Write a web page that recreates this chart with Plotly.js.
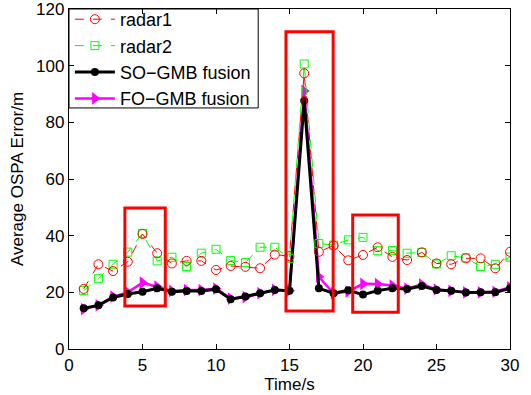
<!DOCTYPE html>
<html>
<head>
<meta charset="utf-8">
<script src="https://cdn.plot.ly/plotly-3.0.1.min.js"></script>
<style>html,body{margin:0;padding:0;background:#fff;}#chart{width:531px;height:395px;}</style>
</head>
<body>
<div id="chart"></div>
<script>
const time = [1,2,3,4,5,6,7,8,9,10,11,12,13,14,15,16,17,18,19,20,21,22,23,24,25,26,27,28,29,30];
const radar1 = [21.2,29.9,27.5,30.8,40.6,33.8,30.2,31.1,31.1,27.9,29.3,29.0,28.5,33.3,32.8,97.3,34.3,36.5,31.3,33.2,35.9,32.5,31.4,34.1,30.2,29.9,32.0,32.0,28.5,34.3];
const radar2 = [20.6,24.8,29.9,34.2,40.8,31.1,32.4,29.1,33.8,35.2,31.2,30.5,35.9,35.9,32.0,100.6,37.2,36.7,38.5,39.4,34.7,34.8,33.8,34.1,30.0,32.9,32.2,29.1,29.9,32.4];
const soGmb = [14.4,15.4,18.2,19.4,20.2,21.4,20.2,20.5,20.5,21.1,17.6,18.5,19.7,20.8,20.6,87.6,21.4,19.7,20.7,19.2,20.6,21.4,21.2,22.2,20.8,20.6,19.9,20.0,20.0,21.4];
const foGmb = [14.1,15.4,18.5,20.0,23.4,22.0,20.5,20.8,20.8,21.3,17.8,18.3,19.7,20.9,20.6,91.1,25.5,19.6,20.3,23.0,22.9,22.4,21.3,22.8,21.0,20.5,20.0,20.0,20.2,21.8];
const seriesNames = ['radar1','radar2','SO\u2212GMB fusion','FO\u2212GMB fusion'];
// highlighted regions (data coordinates)
const boxX0 = [3.8, 14.76, 19.3];
const boxX1 = [6.55, 17.97, 22.4];
const boxY0 = [15.2, 13.4, 13.0];
const boxY1 = [49.8, 112, 47.3];
const xTicks = [0,5,10,15,20,25,30];
const yTicks = [0,20,40,60,80,100,120];

const FONT = '"Liberation Sans", Arial, Helvetica, sans-serif';

// drawn bottom-to-top; legend shown reversed (radar1, radar2, SO, FO)
const traces = [
  {x: time, y: foGmb, name: seriesNames[3], mode: 'lines+markers',
   line: {color: '#ff00ff', width: 2.5},
   marker: {symbol: 'triangle-right', size: 11, color: '#ff00ff'}},
  {x: time, y: soGmb, name: seriesNames[2], mode: 'lines+markers',
   line: {color: '#000000', width: 3},
   marker: {symbol: 'circle', size: 8, color: '#000000'}},
  {x: time, y: radar2, name: seriesNames[1], mode: 'lines+markers',
   line: {color: '#00ff00', width: 1, dash: 'dash'},
   marker: {symbol: 'square-open', size: 8, color: '#00ff00', line: {width: 1, color: '#00ff00'}}},
  {x: time, y: radar1, name: seriesNames[0], mode: 'lines+markers',
   line: {color: '#ff0000', width: 1, dash: 'dash'},
   marker: {symbol: 'circle-open', size: 9, color: '#ff0000', line: {width: 1, color: '#ff0000'}}}
];

const shapes = boxX0.map((x0, i) => ({
  type: 'rect', xref: 'x', yref: 'y', x0: x0, x1: boxX1[i], y0: boxY0[i], y1: boxY1[i],
  line: {color: '#ff0000', width: 3}, fillcolor: 'rgba(0,0,0,0)'
}));
// legend frame
shapes.push({type: 'rect', xref: 'paper', yref: 'paper', x0: 0, x1: 0.429, y0: 0.709, y1: 1,
  line: {color: '#000', width: 1}, fillcolor: '#fff', layer: 'below'});

const axisCommon = {
  showline: true, linecolor: '#000', linewidth: 1.2, mirror: 'ticks',
  ticks: 'inside', ticklen: 5, tickcolor: '#000', tickwidth: 1,
  showgrid: false, zeroline: false, ticklabeloverflow: 'allow', automargin: false,
  tickfont: {family: FONT, size: 17, color: '#000'}
};

const layout = {
  width: 531, height: 395,
  margin: {l: 69, r: 21, t: 9, b: 46, autoexpand: false},
  paper_bgcolor: '#fff', plot_bgcolor: 'rgba(0,0,0,0)',
  font: {family: FONT, size: 17, color: '#000'},
  xaxis: Object.assign({}, axisCommon, {range: [0, 30], tickvals: xTicks,
    title: {text: 'Time/s', font: {family: FONT, size: 17, color: '#000'}, standoff: 2}}),
  yaxis: Object.assign({}, axisCommon, {range: [0, 120], tickvals: yTicks,
    title: {text: 'Average OSPA Error/m', font: {family: FONT, size: 17, color: '#000'}, standoff: 8}}),
  legend: {x: 0.002, y: 1.0235, xanchor: 'left', yanchor: 'top', bgcolor: 'rgba(0,0,0,0)',
    borderwidth: 0, font: {family: FONT, size: 18, color: '#000'},
    itemwidth: 40, tracegroupgap: 0, traceorder: 'reversed'},
  showlegend: true,
  shapes: shapes
};

Plotly.newPlot('chart', traces, layout, {displayModeBar: false, staticPlot: true});
</script>
</body>
</html>
